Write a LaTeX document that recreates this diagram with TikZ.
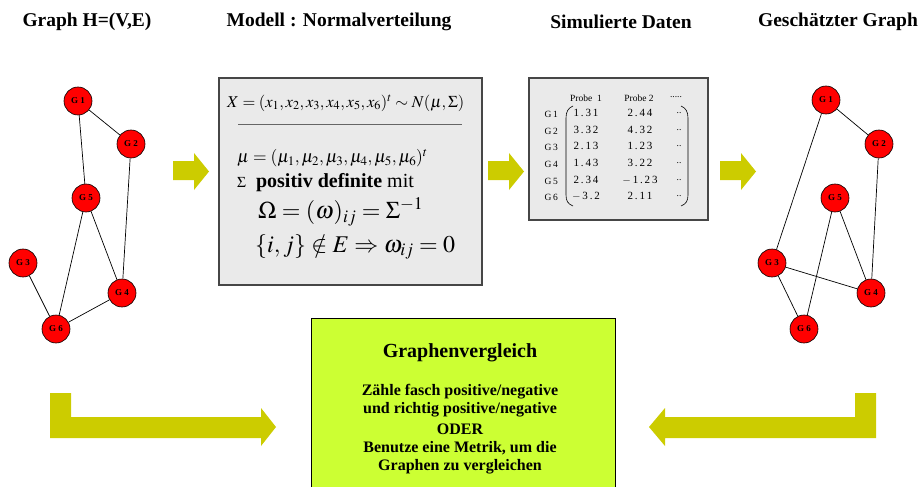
\documentclass[tikz,border=0pt]{standalone}
\usepackage{mathptmx}
\usepackage[no-math]{fontspec}
\setmainfont{Liberation Serif}
\definecolor{arrowyellow}{RGB}{204,204,0}
\definecolor{limefill}{RGB}{204,255,51}
\definecolor{panelgray}{RGB}{234,234,234}
\definecolor{panelborder}{RGB}{70,70,70}
\tikzset{
  gnode/.style={circle, draw=black, line width=0.6pt, fill=red, minimum size=28pt,
    inner sep=0pt, font=\fontsize{9}{10}\selectfont\bfseries},
  gedge/.style={draw=black, line width=0.7pt},
  title/.style={font=\fontsize{19.5}{22}\selectfont\bfseries, inner sep=0pt},
  yarrow/.style={fill=arrowyellow, draw=none},
  panel/.style={draw=panelborder, fill=panelgray, line width=1.4pt, inner sep=0pt},
  mtext/.style={anchor=west, inner sep=0pt},
  dtext/.style={inner sep=0pt, font=\fontsize{9.5}{10}\selectfont},
  dnum/.style={inner sep=0pt, font=\fontsize{11}{12}\selectfont},
  ctext/.style={inner sep=0pt, font=\fontsize{16}{18}\selectfont\bfseries},
}
\begin{document}
\begin{tikzpicture}[x=1pt,y=-1pt]
\useasboundingbox (0,0) rectangle (922,487);

% titles
\node[title] (t1) at (87,22) {Graph H=(V,E)};
\node[title] (t2) at (339,22) {Modell : Normalverteilung};
\node[title] (t3) at (621,22) {Simulierte Daten};
\node[title] (t4) at (838,22) {Geschätzter Graph};

% true graph
\node[gnode] (L1) at (78,101) {G 1};
\node[gnode] (L2) at (131,144) {G 2};
\node[gnode] (L5) at (86,198) {G 5};
\node[gnode] (L3) at (23,263) {G 3};
\node[gnode] (L4) at (122,293) {G 4};
\node[gnode] (L6) at (56,329) {G 6};
\draw[gedge] (L1) -- (L2);
\draw[gedge] (L1) -- (L5);
\draw[gedge] (L2) -- (L4);
\draw[gedge] (L5) -- (L6);
\draw[gedge] (L5) -- (L4);
\draw[gedge] (L3) -- (L6);
\draw[gedge] (L4) -- (L6);

% estimated graph
\node[gnode] (R1) at (826,100) {G 1};
\node[gnode] (R2) at (879,144) {G 2};
\node[gnode] (R5) at (835,198) {G 5};
\node[gnode] (R3) at (772,263) {G 3};
\node[gnode] (R4) at (871,293) {G 4};
\node[gnode] (R6) at (804,329) {G 6};
\draw[gedge] (R1) -- (R2);
\draw[gedge] (R1) -- (R3);
\draw[gedge] (R2) -- (R4);
\draw[gedge] (R5) -- (R6);
\draw[gedge] (R5) -- (R4);
\draw[gedge] (R3) -- (R4);
\draw[gedge] (R3) -- (R6);

% model panel
\node[panel, minimum width=263pt, minimum height=207pt] (model) at (350.5,181.5) {};
\node[mtext, font=\fontsize{16.5}{18}\selectfont] (m1) at (227,103)
  {$X=(x_1,x_2,x_3,x_4,x_5,x_6)^t\sim N(\mu,\Sigma)$};
\draw[line width=1pt, black!60] (238,125) -- (462,125);
\node[mtext, font=\fontsize{17.5}{19}\selectfont] (m2) at (237,158)
  {$\mu=(\mu_1,\mu_2,\mu_3,\mu_4,\mu_5,\mu_6)^t$};
\node[mtext, font=\fontsize{20}{22}\selectfont] (m3) at (237,183)
  {{\fontsize{15}{16}\selectfont$\Sigma$}\ \ \textbf{positiv definite} mit};
\node[mtext, font=\fontsize{24}{26}\selectfont] (m4) at (258,212)
  {$\Omega=(\omega)_{ij}=\Sigma^{-1}$};
\node[mtext, font=\fontsize{24}{26}\selectfont] (m5) at (255,247)
  {$\{i,j\}\notin E\Rightarrow\omega_{ij}=0$};

% data panel
\node[panel, line width=1.2pt, minimum width=179pt, minimum height=142pt] (data) at (618.5,149) {};
\node[dtext] (p1) at (586,98) {Probe\ \ 1};
\node[dtext] (p2) at (639,98) {Probe 2};
\node[dtext] (p3) at (676,97) {.....};
\foreach \i/\y/\a/\b in {1/114/1\,.\,3\,1/2\,.\,4\,4, 2/131/3\,.\,3\,2/4\,.\,3\,2,
  3/147/2\,.\,1\,3/1\,.\,2\,3, 4/164/1\,.\,4\,3/3\,.\,2\,2,
  5/181/2\,.\,3\,4/$-$\,1\,.\,2\,3, 6/197/$-$\,3\,.\,2/2\,.\,1\,1} {
  \node[dtext, anchor=east] (g\i) at (558,\y) {G\,\i};
  \node[dnum] (a\i) at (586,\y-1) {\a};
  \node[dnum] (b\i) at (640,\y-1) {\b};
  \node[dtext] (c\i) at (679,\y-1) {..};
}
\draw[line width=0.6pt] (573,106) .. controls (568,108) and (566,112) .. (566,118)
  -- (566,195) .. controls (566,201) and (568,204) .. (573,206);
\draw[line width=0.6pt] (681,106) .. controls (686,108) and (688,112) .. (688,118)
  -- (688,195) .. controls (688,201) and (686,204) .. (681,206);

% flow arrows
\foreach \x in {173,488,720}
  \fill[yarrow] (\x,161) -- (\x+21,161) -- (\x+21,153) -- (\x+36,171.5)
    -- (\x+21,190) -- (\x+21,180) -- (\x,180) -- cycle;
\fill[yarrow] (50,393) -- (71,393) -- (71,417) -- (261,417) -- (261,408)
  -- (276,427) -- (261,446) -- (261,438) -- (50,438) -- cycle;
\fill[yarrow] (876,393) -- (855,393) -- (855,417) -- (665,417) -- (665,408)
  -- (649,427) -- (665,446) -- (665,438) -- (876,438) -- cycle;

% comparison box
\node[draw=black, line width=1pt, fill=limefill, minimum width=304pt, minimum height=180pt,
  inner sep=0pt] (cmp) at (463,408) {};
\node[inner sep=0pt, font=\fontsize{20}{22}\selectfont\bfseries] (c0) at (460,353) {Graphenvergleich};
\node[ctext] (cl1) at (460,392) {Zähle fasch positive/negative};
\node[ctext] (cl2) at (460,410) {und richtig positive/negative};
\node[ctext] (cl3) at (460,429) {ODER};
\node[ctext] (cl4) at (460,448) {Benutze eine Metrik, um die};
\node[ctext] (cl5) at (460,467) {Graphen zu vergleichen};
\end{tikzpicture}
\end{document}
